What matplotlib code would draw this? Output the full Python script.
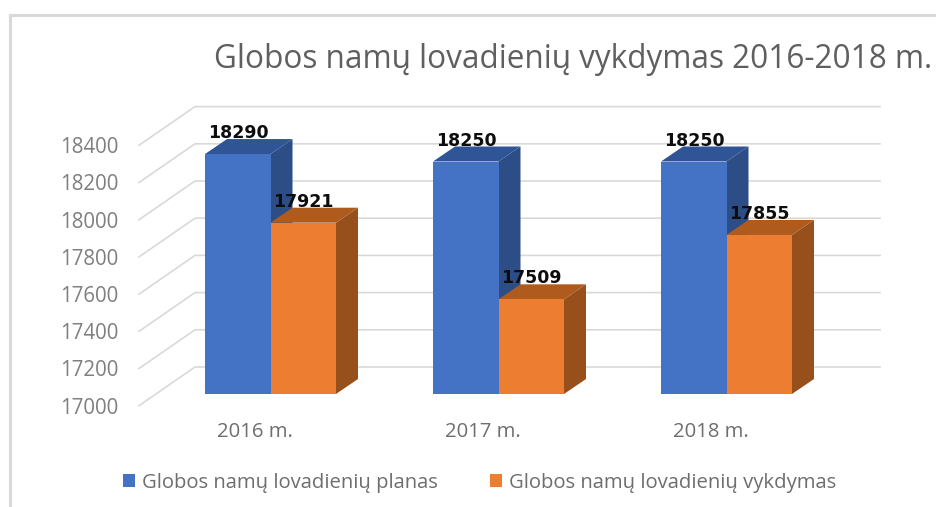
import matplotlib
matplotlib.use("Agg")
import matplotlib.pyplot as plt
from matplotlib.lines import Line2D
from matplotlib.patches import Polygon, Patch
import numpy as np

years = ["2016 m.", "2017 m.", "2018 m."]
plan = [18290, 18250, 18250]
actual = [17921, 17509, 17855]
ticks = [17000, 17200, 17400, 17600, 17800, 18000, 18200, 18400]
title = "Globos namų lovadienių vykdymas 2016-2018 m."
plan_name = "Globos namų lovadienių planas"
actual_name = "Globos namų lovadienių vykdymas"

W, H = 936, 507
plt.rcParams["font.family"] = ["Open Sans", "DejaVu Sans"]
fig = plt.figure(figsize=(W / 100, H / 100), dpi=100)

# front plane of the fake 3d box, in pixels
left, right, bottom, top = 139, 824, 405.7, 145.3
ax = fig.add_axes([left / W, 1 - bottom / H, (right - left) / W, (bottom - top) / H])
px_cat = 228.0
px_val = (bottom - top) / (ticks[-1] - ticks[0])
first_center = 270.5
ax.set_xlim((left - first_center) / px_cat, (right - first_center) / px_cat)
ax.set_ylim(ticks[0], ticks[-1])
for s in ax.spines.values():
  s.set_visible(False)


def shift(x, y, dx, dy):
  # move a data point by a pixel offset
  return x + dx / px_cat, y + dy / px_val


# walls
x0, x1 = ax.get_xlim()
for t in ticks:
  bx0, by = shift(x0, t, 56, 38.7)
  bx1, _ = shift(x1, t, 56, 38.7)
  ax.plot([x0, bx0, bx1], [t, by, by], color="#d9d9d9", lw=1.2, clip_on=False, zorder=1,
          solid_joinstyle="miter")


def bar3d(x_l, x_r, val, front, side, cap, z):
  base_dx, base_dy = 0, 11.7
  depth_dx, depth_dy = 22, 15
  xl, y0 = shift(x_l, ticks[0], base_dx, base_dy)
  xr, _ = shift(x_r, ticks[0], base_dx, base_dy)
  _, y1 = shift(x_l, val, base_dx, base_dy)
  xl2, y0b = shift(xl, y0, depth_dx, depth_dy)
  xr2, _ = shift(xr, y0, depth_dx, depth_dy)
  _, y1b = shift(xl, y1, depth_dx, depth_dy)
  ax.add_patch(Polygon([(xr, y0), (xr2, y0b), (xr2, y1b), (xr, y1)], fc=side, ec="none", clip_on=False, zorder=z))
  ax.add_patch(Polygon([(xl, y1), (xr, y1), (xr2, y1b), (xl2, y1b)], fc=cap, ec="none", clip_on=False, zorder=z))
  ax.add_patch(Polygon([(xl, y0), (xr, y0), (xr, y1), (xl, y1)], fc=front, ec="none", clip_on=False, zorder=z))
  return (xl + xr) / 2, y1


bw = 65.5 / px_cat
pos = np.arange(len(years))
for i in pos:
  cx, cy = bar3d(i - bw, i, plan[i], "#4472c4", "#2c4d85", "#2f5597", 2 + i)
  lx, ly = shift(cx, cy, 1, 21)
  ax.text(lx, ly, str(plan[i]), ha="center", va="center", fontsize=12.5, fontweight="bold",
          family="DejaVu Sans", color="#0d0d0d", zorder=10)
  cx, cy = bar3d(i, i + bw, actual[i], "#ed7d31", "#974f1b", "#b05b1e", 2.5 + i)
  lx, ly = shift(cx, cy, 0, 21)
  ax.text(lx, ly, str(actual[i]), ha="center", va="center", fontsize=12.5, fontweight="bold",
          family="DejaVu Sans", color="#0d0d0d", zorder=10)

ax.set_yticks(ticks)
ax.set_xticks(pos - 15.5 / px_cat)
ax.set_xticklabels(years)
ax.tick_params(axis="y", length=0, pad=15, labelsize=14.8, labelcolor="#7f7f7f")
ax.tick_params(axis="x", length=0, pad=12, labelsize=14.6, labelcolor="#6e6e6e")

fig.text(573 / W, 1 - 59 / H, title, ha="center", va="center", fontsize=22.7, color="#5f5f5f")

# page frame
fig.add_artist(Line2D([10 / W, 10 / W], [0, 1 - 15 / H], color="#d9d9d9", lw=2.2))
fig.add_artist(Line2D([10 / W, 1], [1 - 15 / H, 1 - 15 / H], color="#d9d9d9", lw=2.2))

handles = [Patch(fc="#4472c4", label=plan_name), Patch(fc="#ed7d31", label=actual_name)]
fig.legend(handles=handles, ncol=2, loc="center", bbox_to_anchor=(479.5 / W, 1 - 483 / H), frameon=False,
           fontsize=14.6, labelcolor="#6e6e6e", handlelength=0.6, handleheight=0.6, handletextpad=0.35,
           columnspacing=2.56)

fig.savefig("out.png", dpi=100)
